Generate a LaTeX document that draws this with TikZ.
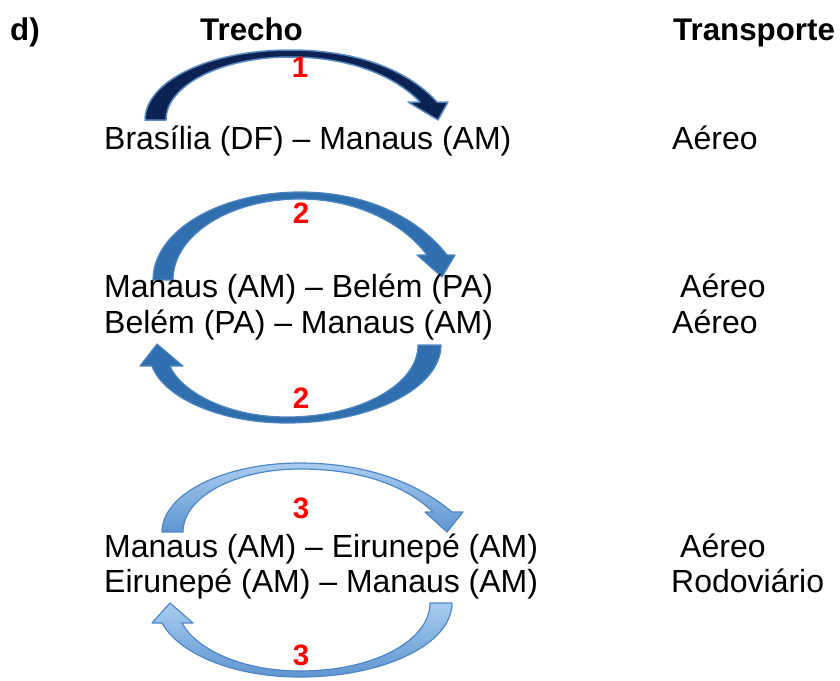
\documentclass[tikz,border=0pt]{standalone}
\usepackage{fontspec}
\setmainfont{Liberation Sans}
\definecolor{navy}{HTML}{0C2252}
\definecolor{navyedge}{HTML}{5B8AC0}
\definecolor{midblue}{HTML}{306FAE}
\definecolor{midedge}{HTML}{4F86C0}
\definecolor{lightA}{HTML}{A9CDF0}
\definecolor{lightB}{HTML}{5F95D0}
\definecolor{lightedge}{HTML}{4F86C6}
\tikzset{
  txt/.style={anchor=base west, inner sep=0pt, font=\fontsize{32}{38}\selectfont},
  hdr/.style={anchor=base west, inner sep=0pt, font=\fontsize{31.3}{37}\selectfont\bfseries},
  num/.style={anchor=base, inner sep=0pt, text=red, font=\fontsize{29.5}{34}\selectfont\bfseries},
  arrA/.style={fill=navy, draw=navyedge, line width=1.5pt, line join=round},
  arrB/.style={fill=midblue, draw=midedge, line width=1.2pt, line join=round},
  arrC/.style={top color=lightA, bottom color=lightB, draw=lightedge, line width=1.2pt, line join=round}
}
\begin{document}
\begin{tikzpicture}[x=1pt, y=-1pt]
\useasboundingbox (0,0) rectangle (840,680);

% arrow 1
\path[arrA] (145,120) .. controls (145,81) and (210,50) .. (290,50)
  .. controls (360,50) and (410,72) .. (437,102) -- (448,102) -- (438,120) -- (408,102) -- (420,102)
  .. controls (395,76) and (350,57) .. (290,57)
  .. controls (222,57) and (166,85) .. (166,120) -- cycle;

% arrow 2 top
\path[arrB] (153,280) .. controls (153,231) and (219,192) .. (300,192)
  .. controls (370,192) and (420,220) .. (447,255) -- (455,255) -- (442,277) -- (417,255) -- (427,255)
  .. controls (402,222) and (355,199) .. (300,199)
  .. controls (230,199) and (173,235) .. (173,280) -- cycle;

% arrow 2 bottom
\path[arrB] (441,345) .. controls (441,388) and (372,423) .. (287,423)
  .. controls (215,423) and (162,395) .. (152,366) -- (140,366) -- (157,344) -- (183,366) -- (170,366)
  .. controls (180,390) and (225,417) .. (287,417)
  .. controls (359,417) and (418,385) .. (418,345) -- cycle;

% arrow 3 top
\path[arrC] (162,532) .. controls (162,494) and (224,463) .. (300,463)
  .. controls (370,463) and (420,485) .. (452,512) -- (463,512) -- (447,532) -- (425,512) -- (433,512)
  .. controls (405,485) and (360,469) .. (300,469)
  .. controls (235,469) and (183,497) .. (183,532) -- cycle;

% arrow 3 bottom
\path[arrC] (452,603) .. controls (452,644) and (384,677) .. (300,677)
  .. controls (230,677) and (178,652) .. (162,623) -- (152,623) -- (170,603) -- (193,623) -- (182,623)
  .. controls (195,648) and (240,671) .. (300,671)
  .. controls (375,671) and (430,640) .. (430,603) -- cycle;

% headers
\node[hdr] (hd) at (10,40) {d)};
\node[hdr] (htr) at (200,40) {Trecho};
\node[hdr] (htp) at (673,40) {Transporte};

% rows
\node[txt] (r1) at (104,149) {Brasília (DF) – Manaus (AM)};
\node[txt] (t1) at (672,149) {Aéreo};
\node[txt] (r2) at (104,297) {Manaus (AM) – Belém (PA)};
\node[txt] (t2) at (680,297) {Aéreo};
\node[txt] (r3) at (104,333) {Belém (PA) – Manaus (AM)};
\node[txt] (t3) at (672,333) {Aéreo};
\node[txt] (r4) at (104,557) {Manaus (AM) – Eirunepé (AM)};
\node[txt] (t4) at (680,557) {Aéreo};
\node[txt] (r5) at (104,592) {Eirunepé (AM) – Manaus (AM)};
\node[txt] (t5) at (671,592) {Rodoviário};

% numbers
\node[num] (n1) at (300,77) {1};
\node[num] (n2a) at (301,223) {2};
\node[num] (n2b) at (301,408) {2};
\node[num] (n3a) at (301,518) {3};
\node[num] (n3b) at (301,665) {3};
\end{tikzpicture}
\end{document}
